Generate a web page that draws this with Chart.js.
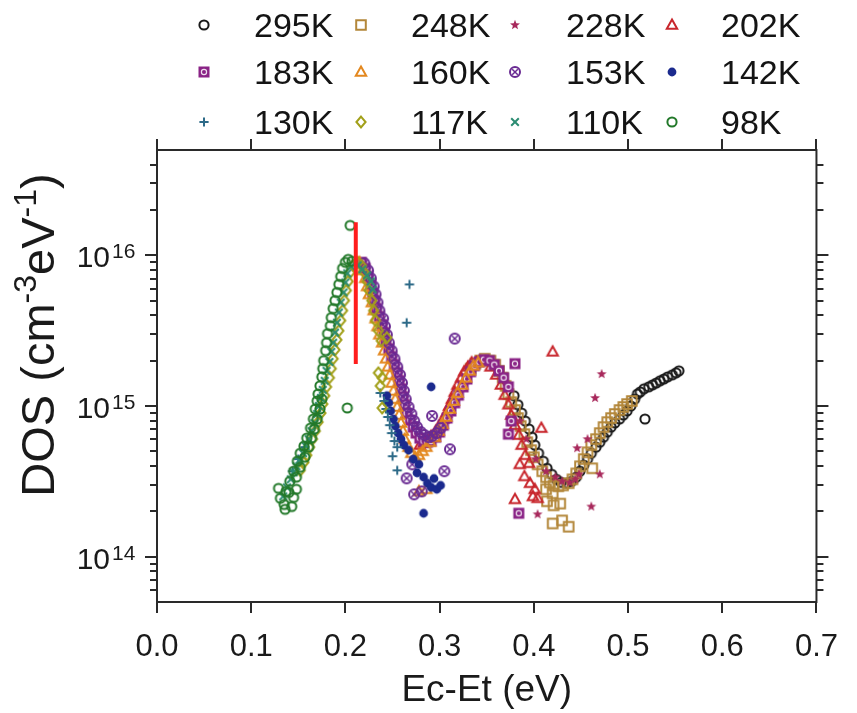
<!DOCTYPE html>
<html><head><meta charset="utf-8">
<script src="https://cdn.jsdelivr.net/npm/chart.js@4.4.1/dist/chart.umd.min.js"></script>
<style>html,body{margin:0;padding:0;background:#fff;}canvas{display:block;}</style>
</head><body>
<canvas id="c" width="857" height="713"></canvas>
<script>
// ---------------- DATA ----------------
const temps = ['295K','248K','228K','202K','183K','160K','153K','142K','130K','117K','110K','98K'];

const x295 = [0.379,0.383,0.387,0.391,0.395,0.398,0.401,0.405,0.410,0.414,0.419,0.424,0.429,0.435,0.440,0.445,0.449,0.453,0.457,0.461,0.466,0.470,0.474,0.478,0.482,0.486,0.491,0.495,0.499,0.503,0.507,0.510,0.513,0.517,0.522,0.526,0.530,0.534,0.538,0.542,0.547,0.551,0.554,0.518];
const y295 = [1.17e15,1.02e15,8.98e14,7.94e14,7.03e14,6.21e14,5.50e14,4.86e14,4.30e14,3.86e14,3.52e14,3.26e14,3.11e14,3.07e14,3.16e14,3.37e14,3.69e14,4.05e14,4.44e14,4.86e14,5.33e14,5.75e14,6.21e14,6.71e14,7.24e14,7.71e14,8.19e14,8.71e14,9.27e14,1.00e15,1.11e15,1.20e15,1.24e15,1.30e15,1.34e15,1.38e15,1.42e15,1.47e15,1.51e15,1.56e15,1.61e15,1.66e15,1.71e15,8.19e14];

const x248 = [0.333,0.338,0.343,0.348,0.354,0.359,0.363,0.367,0.370,0.373,0.376,0.380,0.383,0.386,0.390,0.393,0.397,0.400,0.404,0.409,0.413,0.417,0.421,0.426,0.431,0.437,0.441,0.445,0.449,0.453,0.457,0.461,0.466,0.470,0.474,0.478,0.482,0.486,0.491,0.495,0.499,0.504,0.414,0.421,0.428,0.420,0.430,0.437,0.462,0.413,0.420];
const y248 = [1.77e15,1.91e15,2.00e15,2.06e15,2.00e15,1.88e15,1.71e15,1.54e15,1.36e15,1.20e15,1.06e15,9.40e14,8.32e14,7.36e14,6.50e14,5.75e14,5.09e14,4.57e14,4.10e14,3.69e14,3.37e14,3.11e14,2.97e14,2.93e14,2.97e14,3.07e14,3.26e14,3.57e14,3.98e14,4.44e14,4.93e14,5.50e14,6.03e14,6.61e14,7.24e14,7.82e14,8.32e14,8.85e14,9.40e14,9.85e14,1.03e15,1.08e15,2.33e14,2.19e14,2.25e14,1.66e14,1.74e14,1.58e14,3.86e14,2.80e14,2.63e14];

const x228 = [0.385,0.392,0.402,0.413,0.423,0.430,0.438,0.444,0.448,0.457,0.472,0.465,0.446,0.470,0.461,0.404];
const y228 = [7.94e14,6.03e14,4.44e14,3.69e14,3.37e14,3.16e14,3.11e14,3.26e14,3.52e14,6.03e14,1.63e15,1.13e15,5.25e14,3.52e14,2.15e14,1.91e14];

const x202 = [0.279,0.283,0.287,0.291,0.296,0.300,0.304,0.307,0.310,0.313,0.316,0.319,0.323,0.326,0.330,0.334,0.339,0.354,0.360,0.365,0.369,0.373,0.376,0.380,0.384,0.387,0.391,0.395,0.390,0.396,0.401,0.399,0.404,0.420,0.408,0.385,0.380];
const y202 = [5.50e14,5.67e14,5.93e14,6.31e14,6.81e14,7.46e14,8.19e14,8.98e14,1.00e15,1.11e15,1.24e15,1.38e15,1.54e15,1.69e15,1.82e15,1.94e15,1.96e15,1.82e15,1.61e15,1.38e15,1.18e15,1.02e15,8.71e14,7.46e14,6.41e14,5.50e14,4.71e14,4.17e14,3.41e14,3.07e14,2.80e14,2.51e14,2.44e14,2.29e15,7.13e14,4.10e14,2.40e14];

const x183 = [0.217,0.221,0.224,0.227,0.229,0.231,0.233,0.236,0.239,0.241,0.243,0.246,0.249,0.252,0.255,0.257,0.259,0.261,0.263,0.265,0.269,0.272,0.275,0.279,0.283,0.287,0.291,0.296,0.300,0.304,0.308,0.312,0.316,0.320,0.325,0.329,0.333,0.337,0.342,0.347,0.353,0.358,0.363,0.368,0.373,0.376,0.373,0.380,0.384];
const y183 = [8.98e15,8.19e15,7.24e15,6.41e15,5.67e15,5.01e15,4.43e15,3.92e15,3.47e15,3.07e15,2.71e15,2.40e15,2.12e15,1.88e15,1.66e15,1.47e15,1.30e15,1.15e15,1.02e15,8.98e14,8.07e14,7.24e14,6.61e14,6.12e14,5.85e14,5.75e14,5.85e14,6.21e14,6.71e14,7.46e14,8.32e14,9.27e14,1.05e15,1.18e15,1.34e15,1.51e15,1.69e15,1.85e15,1.96e15,2.03e15,2.00e15,1.88e15,1.71e15,1.54e15,1.34e15,7.94e14,6.50e14,1.91e15,1.94e14];

const x160 = [0.215,0.218,0.221,0.223,0.225,0.228,0.230,0.232,0.234,0.236,0.239,0.241,0.243,0.245,0.247,0.249,0.251,0.253,0.255,0.257,0.259,0.261,0.263,0.267,0.270,0.274,0.278,0.282,0.286,0.290,0.295,0.299,0.303,0.307,0.311,0.315,0.319,0.324,0.328,0.332,0.336,0.341,0.278,0.286];
const y160 = [8.98e15,7.94e15,7.03e15,6.21e15,5.50e15,4.86e15,4.30e15,3.80e15,3.37e15,2.97e15,2.63e15,2.33e15,2.06e15,1.82e15,1.61e15,1.42e15,1.26e15,1.11e15,9.85e14,8.71e14,7.71e14,6.81e14,6.03e14,5.33e14,4.86e14,4.57e14,4.71e14,5.01e14,5.33e14,5.75e14,6.21e14,6.81e14,7.59e14,8.45e14,9.55e14,1.08e15,1.22e15,1.38e15,1.54e15,1.71e15,1.85e15,1.94e15,2.71e14,2.80e14];

const x153 = [0.220,0.224,0.227,0.230,0.232,0.234,0.236,0.240,0.242,0.244,0.246,0.249,0.252,0.255,0.258,0.260,0.262,0.264,0.267,0.270,0.273,0.276,0.280,0.284,0.288,0.292,0.297,0.301,0.316,0.292,0.311,0.305,0.265,0.273,0.271,0.281];
const y153 = [8.85e15,7.94e15,7.03e15,6.21e15,5.50e15,4.86e15,4.30e15,3.80e15,3.37e15,2.97e15,2.63e15,2.33e15,2.06e15,1.82e15,1.61e15,1.42e15,1.26e15,1.11e15,9.85e14,8.85e14,7.94e14,7.24e14,6.71e14,6.41e14,6.21e14,6.31e14,6.61e14,7.13e14,2.80e15,8.58e14,5.16e14,3.69e14,3.31e14,2.59e14,4.10e14,2.71e14];

const x142 = [0.244,0.246,0.248,0.251,0.253,0.256,0.259,0.262,0.267,0.272,0.278,0.283,0.287,0.291,0.297,0.301,0.291,0.283,0.276,0.294];
const y142 = [1.17e15,1.05e15,9.27e14,8.19e14,7.36e14,6.61e14,6.03e14,5.50e14,5.09e14,4.44e14,4.10e14,3.37e14,3.07e14,2.88e14,2.80e14,2.97e14,1.34e15,1.94e14,3.60e14,3.30e14];

const x130 = [0.144,0.150,0.157,0.237,0.241,0.243,0.245,0.247,0.249,0.252,0.255,0.268,0.265,0.250,0.255];
const y130 = [3.69e14,4.44e14,5.33e14,1.22e15,1.08e15,9.55e14,8.45e14,7.46e14,6.61e14,5.85e14,5.33e14,6.41e15,3.57e15,4.64e14,3.74e14];

const x117 = [0.152,0.156,0.159,0.162,0.165,0.168,0.171,0.174,0.176,0.178,0.180,0.183,0.185,0.187,0.189,0.191,0.193,0.195,0.197,0.199,0.201,0.203,0.205,0.208,0.213,0.217,0.220,0.223,0.225,0.228,0.230,0.232,0.235,0.244,0.238,0.235,0.239,0.237,0.239];
const y117 = [3.74e14,4.23e14,4.71e14,5.33e14,6.03e14,6.81e14,7.82e14,8.98e14,1.03e15,1.17e15,1.34e15,1.54e15,1.77e15,2.06e15,2.36e15,2.75e15,3.16e15,3.69e15,4.30e15,5.01e15,5.85e15,6.71e15,7.71e15,8.58e15,8.98e15,8.58e15,7.71e15,6.71e15,5.85e15,5.01e15,4.30e15,3.69e15,3.16e15,2.84e15,2.71e15,1.66e15,1.54e15,1.36e15,9.7e14];

const x110 = [0.134,0.138,0.142,0.145,0.148,0.151,0.155,0.158,0.161,0.164,0.167,0.170,0.172,0.174,0.176,0.178,0.180,0.183,0.185,0.187,0.189,0.191,0.193,0.195,0.198,0.200,0.202,0.206,0.213,0.218,0.223,0.227,0.229];
const y110 = [2.51e14,2.88e14,3.26e14,3.63e14,3.98e14,4.37e14,4.86e14,5.41e14,6.03e14,6.81e14,7.70e14,8.85e14,1.00e15,1.13e15,1.28e15,1.47e15,1.71e15,1.96e15,2.29e15,2.63e15,3.07e15,3.57e15,4.17e15,4.86e15,5.67e15,6.61e15,7.59e15,8.45e15,8.58e15,8.07e15,7.36e15,6.71e15,5.93e15];

const x98 = [0.129,0.131,0.135,0.136,0.140,0.143,0.145,0.148,0.137,0.141,0.145,0.149,0.152,0.156,0.159,0.163,0.166,0.168,0.170,0.171,0.173,0.175,0.176,0.177,0.179,0.180,0.181,0.184,0.185,0.187,0.189,0.191,0.193,0.195,0.197,0.200,0.203,0.207,0.205,0.202,0.148,0.152,0.157,0.161,0.164,0.167,0.170,0.173,0.175];
const y98 = [2.84e14,2.44e14,2.22e14,2.06e14,2.67e14,2.15e14,2.47e14,2.80e14,2.71e14,3.16e14,3.69e14,4.30e14,4.86e14,5.41e14,6.12e14,7.13e14,8.19e14,9.55e14,1.08e15,1.20e15,1.36e15,1.56e15,1.77e15,2.00e15,2.33e15,2.63e15,3.02e15,3.41e15,3.86e15,4.43e15,5.01e15,5.67e15,6.41e15,7.24e15,8.19e15,8.98e15,9.40e15,9.12e15,1.58e16,9.7e14,3.37e14,3.92e14,4.57e14,5.33e14,6.12e14,7.03e14,8.19e14,9.55e14,1.11e15];

const markLineX = [0.211, 0.211];
const markLineY = [1.66e16, 1.9e15];

const xTickValues = [0, 0.1, 0.2, 0.3, 0.4, 0.5, 0.6, 0.7];
const xTickLabels = ['0.0','0.1','0.2','0.3','0.4','0.5','0.6','0.7'];
const yDecades = [13, 14, 15, 16];
const yMantissas = [1, 2, 3, 4, 5, 6, 7, 8, 9];
const yLabelExps = [14, 15, 16];

// ---------------- STYLE ----------------
const FONT = "'Liberation Sans', Arial, Helvetica, sans-serif";
const seriesX = [x295,x248,x228,x202,x183,x160,x153,x142,x130,x117,x110,x98];
const seriesY = [y295,y248,y228,y202,y183,y160,y153,y142,y130,y117,y110,y98];
const colors = ['#1a1a1a','#b3873a','#a8295c','#c8262c','#8a2386','#e3881f','#692a92','#1b2a8e','#2d6a88','#a2a01a','#2b8c72','#23792a'];
const kinds = ['circle','square','star','triangle','squareX','triangle','circleX','dot','plus','diamond','x','circle'];

function makeMarker(kind, color) {
  const s = 20, m = 10;
  const c = document.createElement('canvas'); c.width = s; c.height = s;
  const g = c.getContext('2d');
  g.strokeStyle = color; g.fillStyle = color; g.lineWidth = 2;
  g.beginPath();
  switch (kind) {
    case 'circle': g.arc(m, m, 4.6, 0, Math.PI*2); g.stroke(); break;
    case 'square': g.rect(m-4.8, m-4.8, 9.6, 9.6); g.stroke(); break;
    case 'triangle': g.moveTo(m, m-5.4); g.lineTo(m+5.2, m+3.8); g.lineTo(m-5.2, m+3.8); g.closePath(); g.stroke(); break;
    case 'diamond': g.moveTo(m, m-5.4); g.lineTo(m+4.6, m); g.lineTo(m, m+5.4); g.lineTo(m-4.6, m); g.closePath(); g.stroke(); break;
    case 'dot': g.arc(m, m, 4.4, 0, Math.PI*2); g.fill(); break;
    case 'plus': g.moveTo(m-4.6, m); g.lineTo(m+4.6, m); g.moveTo(m, m-4.6); g.lineTo(m, m+4.6); g.stroke(); break;
    case 'x': g.moveTo(m-3.8, m-3.8); g.lineTo(m+3.8, m+3.8); g.moveTo(m+3.8, m-3.8); g.lineTo(m-3.8, m+3.8); g.stroke(); break;
    case 'star': {
      for (let k = 0; k < 10; k++) {
        const r = k % 2 ? 2.2 : 5.2, a = -Math.PI/2 + k*Math.PI/5;
        const px = m + r*Math.cos(a), py = m + r*Math.sin(a);
        k ? g.lineTo(px, py) : g.moveTo(px, py);
      }
      g.closePath(); g.fill(); break;
    }
    case 'squareX':
      g.fillRect(m-5.5, m-5.5, 11, 11);
      g.strokeStyle = 'rgba(255,255,255,0.85)'; g.lineWidth = 1.2;
      g.arc(m, m, 2.6, 0, Math.PI*2); g.stroke();
      break;
    case 'circleX':
      g.arc(m, m, 5, 0, Math.PI*2); g.stroke();
      g.beginPath(); g.lineWidth = 1.5;
      g.moveTo(m-2.8, m-2.8); g.lineTo(m+2.8, m+2.8); g.moveTo(m+2.8, m-2.8); g.lineTo(m-2.8, m+2.8); g.stroke();
      break;
  }
  return c;
}
const markers = kinds.map((k, i) => makeMarker(k, colors[i]));

const datasets = temps.map((t, i) => ({
  label: t,
  data: seriesX[i].map((x, j) => ({ x: x, y: seriesY[i][j] })),
  pointStyle: markers[i],
  pointRadius: 5,
  pointHoverRadius: 5,
  showLine: false,
  order: 12 - i
}));
datasets.push({
  label: 'mark',
  data: markLineX.map((x, j) => ({ x: x, y: markLineY[j] })),
  showLine: true, borderColor: '#ff1d1d', borderWidth: 4, pointRadius: 0, order: 0
});

const yTickValues = [];
yDecades.forEach(d => yMantissas.forEach(mm => {
  const v = mm * Math.pow(10, d);
  if (v > 5.01e13 && v < 4.99e16) yTickValues.push(v);
}));

// ---------------- DECORATION PLUGIN ----------------
const deco = {
  id: 'deco',
  afterDraw(chart) {
    const ctx = chart.ctx, a = chart.chartArea, xs = chart.scales.x, ys = chart.scales.y;
    ctx.save();
    ctx.strokeStyle = '#2a2a2a'; ctx.lineWidth = 2;
    ctx.strokeRect(a.left, a.top, a.right - a.left, a.bottom - a.top);
    ctx.beginPath();
    xs.ticks.forEach(t => {
      const p = Math.round(xs.getPixelForValue(t.value));
      ctx.moveTo(p, a.bottom); ctx.lineTo(p, a.bottom + 11);
      ctx.moveTo(p, a.top); ctx.lineTo(p, a.top - 11);
    });
    ys.ticks.forEach(t => {
      const p = Math.round(ys.getPixelForValue(t.value));
      const len = t.major ? 12 : 7;
      ctx.moveTo(a.left - len, p); ctx.lineTo(a.left, p);
      ctx.moveTo(a.right, p); ctx.lineTo(a.right + len, p);
    });
    ctx.stroke();

    // y tick labels 10^n
    ctx.fillStyle = '#1a1a1a';
    ctx.textBaseline = 'alphabetic';
    yLabelExps.forEach(e => {
      const p = ys.getPixelForValue(Math.pow(10, e));
      ctx.font = '30px ' + FONT; ctx.textAlign = 'right';
      ctx.fillText('10', a.left - 47, p + 12);
      ctx.font = '21px ' + FONT; ctx.textAlign = 'left';
      ctx.fillText(String(e), a.left - 45, p + 3);
    });

    // y title with superscripts
    ctx.save();
    ctx.translate(54, 335);
    ctx.rotate(-Math.PI / 2);
    const big = '47px ' + FONT, small = '32px ' + FONT;
    const parts = [['DOS (cm', big, 0], ['-3', small, -18], ['eV', big, 0], ['-1', small, -18], [')', big, 0]];
    let total = 0;
    parts.forEach(p => { ctx.font = p[1]; total += ctx.measureText(p[0]).width; });
    let cx = -total / 2;
    ctx.textAlign = 'left';
    parts.forEach(p => { ctx.font = p[1]; ctx.fillText(p[0], cx, p[2]); cx += ctx.measureText(p[0]).width; });
    ctx.restore();

    // legend
    const legMarkX = [204, 361, 515, 672], legTextX = [254, 411, 566, 721], legRowY = [25, 72, 122];
    ctx.font = '34px ' + FONT; ctx.textAlign = 'left'; ctx.fillStyle = '#141414';
    temps.forEach((t, i) => {
      const c = i % 4, r = Math.floor(i / 4);
      ctx.drawImage(markers[i], legMarkX[c] - 10, legRowY[r] - 10);
      ctx.fillText(t, legTextX[c], legRowY[r] + 12);
    });
    ctx.restore();
  }
};

Chart.defaults.font.family = FONT;
Chart.defaults.color = '#1a1a1a';

new Chart(document.getElementById('c'), {
  type: 'scatter',
  data: { datasets: datasets },
  plugins: [deco],
  options: {
    responsive: false,
    animation: false,
    devicePixelRatio: 1,
    layout: { padding: { left: 0, right: 25, top: 150, bottom: 0 } },
    plugins: { legend: { display: false }, tooltip: { enabled: false } },
    scales: {
      x: {
        type: 'linear', min: 0, max: 0.7,
        afterBuildTicks: s => { s.ticks = xTickValues.map(v => ({ value: v })); },
        ticks: { callback: (v, i) => xTickLabels[i], font: { size: 31, family: FONT }, color: '#1a1a1a', padding: 19, maxRotation: 0, autoSkip: false },
        grid: { display: false }, border: { display: false },
        title: { display: true, text: 'Ec-Et (eV)', font: { size: 37, family: FONT }, color: '#1a1a1a', padding: { top: 0, bottom: 0 } },
        afterFit: s => { s.height = 111; }
      },
      y: {
        type: 'logarithmic', min: 5e13, max: 5e16,
        afterBuildTicks: s => { s.ticks = yTickValues.map(v => ({ value: v, major: yLabelExps.concat([13]).some(e => Math.abs(v - Math.pow(10, e)) < 1) })); },
        ticks: { display: false },
        grid: { display: false }, border: { display: false },
        afterFit: s => { s.width = 157; }
      }
    }
  }
});
</script>
</body></html>
